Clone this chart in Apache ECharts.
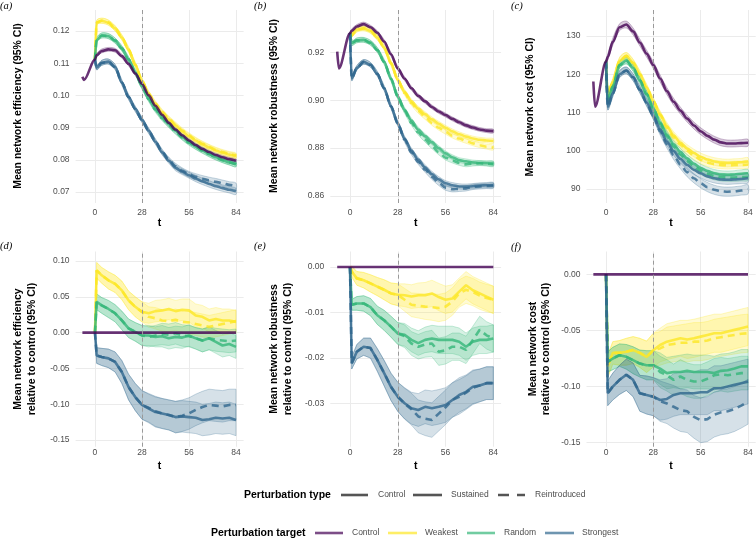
<!DOCTYPE html>
<html>
<head>
<meta charset="utf-8">
<script src="https://cdn.jsdelivr.net/npm/echarts@6/dist/echarts.min.js"></script>
<style>
  html, body { margin: 0; padding: 0; background: #fff; }
  #container { width: 756px; height: 539px; }
</style>
</head>
<body>
<div id="container"></div>
<script>
// time points (days relative to perturbation)
const tPre = [-7.5, -6.5, 0];
const tPost = [0, 1, 4, 8, 12, 16, 20, 24, 28, 32, 36, 40, 44, 48, 52, 56, 60, 64, 68, 72, 76, 80, 84];
const xTicks = [0, 28, 56, 84];

// (a) mean network efficiency
const aTicks = [0.07, 0.08, 0.09, 0.10, 0.11, 0.12];
const aCtrlPre = [0.1058, 0.1048, 0.1112];
const aCtrl  = [0.1112, 0.1125, 0.1138, 0.1143, 0.1140, 0.1122, 0.1098, 0.1068, 0.1036, 0.1000, 0.0968, 0.0940, 0.0915, 0.0894, 0.0876, 0.0860, 0.0846, 0.0834, 0.0824, 0.0815, 0.0808, 0.0802, 0.0797];
const aWeakS = [0.1112, 0.1226, 0.1232, 0.1226, 0.1208, 0.1180, 0.1142, 0.1095, 0.1045, 0.1004, 0.0972, 0.0946, 0.0925, 0.0906, 0.0888, 0.0873, 0.0860, 0.0848, 0.0838, 0.0829, 0.0822, 0.0816, 0.0811];
const aWeakR = [0.1112, 0.1226, 0.1232, 0.1226, 0.1208, 0.1180, 0.1142, 0.1095, 0.1045, 0.1006, 0.0975, 0.0949, 0.0928, 0.0909, 0.0891, 0.0876, 0.0862, 0.0850, 0.0840, 0.0831, 0.0824, 0.0818, 0.0813];
const aRandS = [0.1112, 0.1172, 0.1186, 0.1184, 0.1170, 0.1146, 0.1112, 0.1072, 0.1028, 0.0990, 0.0958, 0.0932, 0.0910, 0.0890, 0.0871, 0.0855, 0.0841, 0.0829, 0.0818, 0.0808, 0.0799, 0.0792, 0.0786];
const aRandR = [0.1112, 0.1172, 0.1186, 0.1184, 0.1170, 0.1146, 0.1112, 0.1072, 0.1028, 0.0988, 0.0955, 0.0929, 0.0907, 0.0887, 0.0869, 0.0853, 0.0840, 0.0828, 0.0817, 0.0807, 0.0799, 0.0792, 0.0786];
const aStrS  = [0.1112, 0.1086, 0.1101, 0.1105, 0.1088, 0.1040, 0.0995, 0.0958, 0.0924, 0.0890, 0.0856, 0.0823, 0.0797, 0.0775, 0.0763, 0.0752, 0.0742, 0.0733, 0.0725, 0.0718, 0.0712, 0.0707, 0.0702];
const aStrR  = [0.1112, 0.1086, 0.1101, 0.1105, 0.1088, 0.1040, 0.0995, 0.0958, 0.0924, 0.0890, 0.0857, 0.0825, 0.0800, 0.0780, 0.0766, 0.0755, 0.0747, 0.0741, 0.0736, 0.0732, 0.0727, 0.0722, 0.0718];
const aCtrlCI = [0.0003, 0.0005, 0.0006, 0.0006, 0.0006, 0.0006, 0.0006, 0.0006, 0.0006, 0.0006, 0.0006, 0.0006, 0.0006, 0.0006, 0.0006, 0.0006, 0.0006, 0.0006, 0.0006, 0.0006, 0.0006, 0.0006, 0.0006];
const aWeakCI = [0.0003, 0.0007, 0.0008, 0.0008, 0.0008, 0.0008, 0.0008, 0.0008, 0.0008, 0.0008, 0.0008, 0.0008, 0.0008, 0.0008, 0.0008, 0.0008, 0.0008, 0.0008, 0.0008, 0.0008, 0.0008, 0.0008, 0.0008];
const aRandCI = [0.0003, 0.0007, 0.0008, 0.0008, 0.0008, 0.0008, 0.0008, 0.0008, 0.0008, 0.0008, 0.0008, 0.0008, 0.0008, 0.0008, 0.0008, 0.0008, 0.0008, 0.0008, 0.0008, 0.0008, 0.0008, 0.0008, 0.0008];
const aStrCI  = [0.0003, 0.0007, 0.0008, 0.0008, 0.0008, 0.0008, 0.0008, 0.0008, 0.0008, 0.0008, 0.0008, 0.0008, 0.0008, 0.0009, 0.0009, 0.0009, 0.0010, 0.0010, 0.0010, 0.0010, 0.0010, 0.0010, 0.0010];

// (b) mean network robustness
const bTicks = [0.86, 0.88, 0.90, 0.92];
const bCtrlPre = [0.9203, 0.9133, 0.9280];
const bCtrl  = [0.9280, 0.9290, 0.9308, 0.9318, 0.9305, 0.9282, 0.9245, 0.9192, 0.9133, 0.9090, 0.9050, 0.9018, 0.8995, 0.8972, 0.8953, 0.8938, 0.8922, 0.8908, 0.8895, 0.8886, 0.8878, 0.8873, 0.8871];
const bWeakS = [0.9280, 0.9272, 0.9295, 0.9300, 0.9290, 0.9262, 0.9220, 0.9155, 0.9085, 0.9035, 0.8995, 0.8965, 0.8942, 0.8920, 0.8902, 0.8885, 0.8870, 0.8858, 0.8848, 0.8840, 0.8835, 0.8832, 0.8830];
const bWeakR = [0.9280, 0.9272, 0.9295, 0.9300, 0.9290, 0.9262, 0.9220, 0.9155, 0.9085, 0.9030, 0.8988, 0.8955, 0.8930, 0.8905, 0.8885, 0.8868, 0.8852, 0.8840, 0.8830, 0.8820, 0.8812, 0.8806, 0.8802];
const bRandS = [0.9280, 0.9238, 0.9250, 0.9252, 0.9240, 0.9210, 0.9160, 0.9090, 0.9015, 0.8960, 0.8915, 0.8878, 0.8850, 0.8825, 0.8800, 0.8778, 0.8762, 0.8750, 0.8745, 0.8740, 0.8738, 0.8737, 0.8736];
const bRandR = [0.9280, 0.9238, 0.9250, 0.9252, 0.9240, 0.9210, 0.9160, 0.9090, 0.9015, 0.8955, 0.8905, 0.8865, 0.8835, 0.8808, 0.8782, 0.8760, 0.8748, 0.8738, 0.8732, 0.8735, 0.8737, 0.8735, 0.8733];
const bStrS  = [0.9280, 0.9091, 0.9135, 0.9160, 0.9148, 0.9110, 0.9050, 0.8975, 0.8903, 0.8840, 0.8790, 0.8752, 0.8720, 0.8692, 0.8670, 0.8653, 0.8645, 0.8640, 0.8639, 0.8641, 0.8644, 0.8645, 0.8646];
const bStrR  = [0.9280, 0.9091, 0.9135, 0.9160, 0.9148, 0.9110, 0.9050, 0.8975, 0.8903, 0.8835, 0.8782, 0.8742, 0.8710, 0.8680, 0.8655, 0.8635, 0.8628, 0.8630, 0.8632, 0.8638, 0.8640, 0.8642, 0.8643];
const bCtrlCI = [0.0004, 0.0008, 0.0008, 0.0008, 0.0008, 0.0008, 0.0008, 0.0008, 0.0008, 0.0008, 0.0008, 0.0008, 0.0008, 0.0008, 0.0008, 0.0008, 0.0008, 0.0008, 0.0008, 0.0008, 0.0008, 0.0008, 0.0008];
const bWeakCI = [0.0004, 0.0009, 0.0010, 0.0010, 0.0010, 0.0010, 0.0010, 0.0010, 0.0010, 0.0010, 0.0010, 0.0010, 0.0010, 0.0010, 0.0010, 0.0010, 0.0010, 0.0010, 0.0010, 0.0010, 0.0010, 0.0010, 0.0010];
const bRandCI = [0.0004, 0.0009, 0.0010, 0.0010, 0.0010, 0.0010, 0.0010, 0.0010, 0.0010, 0.0010, 0.0010, 0.0010, 0.0010, 0.0010, 0.0010, 0.0010, 0.0010, 0.0010, 0.0010, 0.0010, 0.0010, 0.0010, 0.0010];
const bStrCI  = [0.0004, 0.0009, 0.0010, 0.0010, 0.0010, 0.0010, 0.0010, 0.0010, 0.0010, 0.0010, 0.0010, 0.0010, 0.0011, 0.0011, 0.0011, 0.0011, 0.0011, 0.0011, 0.0011, 0.0011, 0.0011, 0.0011, 0.0011];

// (c) mean network cost
const cTicks = [90, 100, 110, 120, 130];
const cCtrlPre = [118.1, 111.5, 123.3];
const cCtrl  = [123.3, 124.5, 128.5, 132.3, 133.0, 131.2, 128.3, 125.4, 122.4, 118.9, 115.6, 112.8, 110.5, 108.4, 106.6, 105.1, 103.9, 102.9, 102.2, 101.9, 101.9, 102.0, 102.1];
const cWeakS = [123.3, 114.8, 118.0, 123.5, 124.8, 123.0, 120.0, 116.5, 112.9, 109.5, 106.4, 104.0, 102.1, 100.6, 99.4, 98.4, 97.7, 97.2, 96.9, 96.8, 96.9, 97.0, 97.2];
const cWeakR = [123.3, 114.8, 118.0, 123.5, 124.8, 123.0, 120.0, 116.5, 112.9, 109.3, 106.0, 103.5, 101.6, 100.0, 98.7, 97.6, 96.9, 96.5, 96.3, 96.2, 96.3, 96.3, 96.4];
const cRandS = [123.3, 113.3, 116.8, 122.4, 123.6, 121.7, 118.4, 114.8, 111.0, 107.4, 104.2, 101.7, 99.7, 98.0, 96.6, 95.5, 94.7, 94.1, 93.8, 93.7, 93.8, 94.0, 94.1];
const cRandR = [123.3, 113.3, 116.8, 122.4, 123.6, 121.7, 118.4, 114.8, 111.0, 107.1, 103.8, 101.1, 99.0, 97.3, 95.9, 94.8, 94.0, 93.4, 93.1, 93.0, 93.0, 93.1, 93.2];
const cStrS  = [123.3, 111.5, 115.0, 120.0, 121.0, 119.2, 116.0, 112.6, 109.1, 105.6, 102.4, 99.9, 97.9, 96.3, 95.0, 94.1, 93.3, 92.8, 92.5, 92.4, 92.5, 92.6, 92.8];
const cStrR  = [123.3, 111.5, 115.0, 120.0, 121.0, 119.2, 116.0, 112.6, 109.1, 105.1, 101.7, 98.8, 96.4, 94.4, 92.8, 91.5, 90.5, 89.8, 89.4, 89.3, 89.4, 89.6, 89.9];
const cCtrlCI = [0.4, 0.8, 0.9, 0.9, 0.9, 0.9, 0.9, 0.9, 0.9, 0.9, 0.9, 0.9, 0.9, 0.9, 0.9, 0.9, 0.9, 0.9, 0.9, 0.9, 0.9, 0.9, 0.9];
const cWeakCI = [0.4, 0.8, 0.9, 0.9, 0.9, 0.9, 0.9, 0.9, 0.9, 0.9, 1.0, 1.0, 1.0, 1.0, 1.0, 1.0, 1.0, 1.0, 1.0, 1.0, 1.0, 1.0, 1.0];
const cRandCI = [0.4, 0.8, 0.9, 0.9, 0.9, 0.9, 0.9, 0.9, 0.9, 0.9, 1.0, 1.0, 1.0, 1.0, 1.0, 1.0, 1.0, 1.0, 1.0, 1.0, 1.0, 1.0, 1.0];
const cStrCI  = [0.4, 0.8, 0.9, 0.9, 0.9, 0.9, 0.9, 0.9, 0.9, 1.0, 1.0, 1.1, 1.1, 1.2, 1.2, 1.2, 1.2, 1.2, 1.2, 1.2, 1.2, 1.2, 1.2];

// relative to control: the control itself sits at zero
const relCtrlPre = [0, 0, 0];
const relCtrl = [0, 0, 0, 0, 0, 0, 0, 0, 0, 0, 0, 0, 0, 0, 0, 0, 0, 0, 0, 0, 0, 0, 0];

// (d) efficiency relative to control
const dTicks = [-0.15, -0.10, -0.05, 0, 0.05, 0.10];
const dWeakS = [0, 0.087, 0.080, 0.073, 0.068, 0.059, 0.045, 0.036, 0.029, 0.027, 0.030, 0.031, 0.033, 0.030, 0.032, 0.031, 0.024, 0.022, 0.017, 0.019, 0.017, 0.017, 0.015];
const dWeakR = [0, 0.087, 0.080, 0.073, 0.068, 0.059, 0.045, 0.036, 0.029, 0.022, 0.020, 0.017, 0.016, 0.018, 0.015, 0.014, 0.012, 0.010, 0.008, 0.010, 0.012, 0.014, 0.016];
const dRandS = [0, 0.043, 0.038, 0.033, 0.027, 0.017, 0.006, 0.001, -0.004, -0.004, -0.006, -0.005, -0.008, -0.006, -0.007, -0.004, -0.008, -0.011, -0.008, -0.013, -0.018, -0.016, -0.020];
const dRandR = [0, 0.043, 0.038, 0.033, 0.027, 0.017, 0.006, 0.001, -0.004, -0.006, -0.004, -0.002, -0.003, -0.001, -0.004, -0.005, -0.008, -0.011, -0.008, -0.010, -0.011, -0.012, -0.011];
const dStrS  = [0, -0.032, -0.034, -0.036, -0.041, -0.055, -0.076, -0.090, -0.101, -0.106, -0.111, -0.113, -0.115, -0.118, -0.117, -0.118, -0.119, -0.122, -0.121, -0.119, -0.120, -0.119, -0.122];
const dStrR  = [0, -0.032, -0.034, -0.036, -0.041, -0.055, -0.076, -0.090, -0.101, -0.105, -0.110, -0.113, -0.115, -0.118, -0.116, -0.113, -0.108, -0.104, -0.101, -0.102, -0.103, -0.101, -0.101];
const dWeakCI = [0, 0.011, 0.011, 0.012, 0.012, 0.013, 0.013, 0.014, 0.014, 0.014, 0.015, 0.015, 0.015, 0.015, 0.015, 0.016, 0.016, 0.016, 0.016, 0.016, 0.016, 0.016, 0.016];
const dRandCI = [0, 0.011, 0.011, 0.012, 0.012, 0.013, 0.013, 0.013, 0.014, 0.014, 0.014, 0.015, 0.015, 0.015, 0.015, 0.015, 0.015, 0.016, 0.016, 0.016, 0.016, 0.016, 0.016];
const dStrCI  = [0, 0.011, 0.012, 0.013, 0.014, 0.016, 0.018, 0.019, 0.020, 0.020, 0.021, 0.021, 0.021, 0.022, 0.022, 0.022, 0.022, 0.022, 0.022, 0.022, 0.022, 0.022, 0.022];

// (e) robustness relative to control
const eTicks = [-0.03, -0.02, -0.01, 0];
const eWeakS = [0, -0.0010, -0.0025, -0.0029, -0.0036, -0.0043, -0.0050, -0.0058, -0.0061, -0.0062, -0.0065, -0.0062, -0.0062, -0.0058, -0.0066, -0.0072, -0.0069, -0.0054, -0.0040, -0.0051, -0.0058, -0.0065, -0.0072];
const eWeakR = [0, -0.0010, -0.0025, -0.0029, -0.0036, -0.0043, -0.0050, -0.0058, -0.0061, -0.0072, -0.0083, -0.0085, -0.0087, -0.0088, -0.0090, -0.0087, -0.0076, -0.0058, -0.0050, -0.0055, -0.0063, -0.0068, -0.0072];
const eRandS = [0, -0.0083, -0.0080, -0.0080, -0.0088, -0.0106, -0.0117, -0.0131, -0.0146, -0.0149, -0.0160, -0.0167, -0.0160, -0.0157, -0.0160, -0.0160, -0.0160, -0.0164, -0.0175, -0.0164, -0.0160, -0.0160, -0.0157];
const eRandR = [0, -0.0083, -0.0080, -0.0080, -0.0088, -0.0106, -0.0117, -0.0131, -0.0146, -0.0152, -0.0168, -0.0175, -0.0170, -0.0168, -0.0186, -0.0183, -0.0175, -0.0175, -0.0182, -0.0160, -0.0138, -0.0150, -0.0157];
const eStrS  = [0, -0.0211, -0.0186, -0.0175, -0.0178, -0.0204, -0.0233, -0.0263, -0.0285, -0.0299, -0.0310, -0.0314, -0.0307, -0.0310, -0.0307, -0.0303, -0.0292, -0.0281, -0.0274, -0.0263, -0.0260, -0.0255, -0.0255];
const eStrR  = [0, -0.0211, -0.0186, -0.0175, -0.0178, -0.0204, -0.0233, -0.0263, -0.0285, -0.0300, -0.0312, -0.0328, -0.0333, -0.0336, -0.0322, -0.0308, -0.0292, -0.0285, -0.0276, -0.0265, -0.0260, -0.0255, -0.0255];
const eWeakCI = [0, 0.0012, 0.0015, 0.0017, 0.0019, 0.0020, 0.0022, 0.0023, 0.0024, 0.0025, 0.0026, 0.0027, 0.0028, 0.0029, 0.0030, 0.0030, 0.0030, 0.0030, 0.0030, 0.0030, 0.0030, 0.0030, 0.0030];
const eRandCI = [0, 0.0012, 0.0015, 0.0017, 0.0019, 0.0020, 0.0022, 0.0023, 0.0024, 0.0025, 0.0026, 0.0027, 0.0028, 0.0029, 0.0030, 0.0030, 0.0030, 0.0030, 0.0030, 0.0030, 0.0030, 0.0030, 0.0030];
const eStrCI  = [0, 0.0013, 0.0016, 0.0019, 0.0022, 0.0025, 0.0028, 0.0030, 0.0032, 0.0034, 0.0035, 0.0036, 0.0037, 0.0038, 0.0038, 0.0038, 0.0038, 0.0038, 0.0037, 0.0037, 0.0036, 0.0036, 0.0036];

// (f) cost relative to control
const fTicks = [-0.15, -0.10, -0.05, 0];
const fWeakS = [0, -0.082, -0.070, -0.070, -0.069, -0.0675, -0.070, -0.0735, -0.0675, -0.063, -0.060, -0.0585, -0.057, -0.058, -0.057, -0.0555, -0.054, -0.0525, -0.0525, -0.051, -0.0495, -0.048, -0.0465];
const fWeakR = [0, -0.082, -0.070, -0.070, -0.069, -0.0675, -0.070, -0.0735, -0.0675, -0.066, -0.063, -0.062, -0.061, -0.061, -0.060, -0.060, -0.059, -0.057, -0.056, -0.055, -0.054, -0.053, -0.0525];
const fRandS = [0, -0.078, -0.075, -0.072, -0.0735, -0.0765, -0.0795, -0.081, -0.081, -0.084, -0.088, -0.087, -0.087, -0.086, -0.087, -0.087, -0.087, -0.088, -0.086, -0.0855, -0.084, -0.082, -0.082];
const fRandR = [0, -0.078, -0.075, -0.072, -0.0735, -0.0765, -0.0795, -0.081, -0.081, -0.087, -0.090, -0.094, -0.091, -0.094, -0.0955, -0.0955, -0.093, -0.090, -0.089, -0.090, -0.089, -0.088, -0.088];
const fStrS  = [0, -0.106, -0.100, -0.094, -0.0895, -0.094, -0.106, -0.1075, -0.109, -0.112, -0.111, -0.1075, -0.106, -0.106, -0.106, -0.105, -0.105, -0.1015, -0.1015, -0.100, -0.0985, -0.097, -0.0955];
const fStrR  = [0, -0.106, -0.100, -0.094, -0.0895, -0.094, -0.106, -0.1075, -0.109, -0.113, -0.115, -0.118, -0.121, -0.122, -0.127, -0.130, -0.129, -0.125, -0.123, -0.122, -0.120, -0.117, -0.1135];
const fWeakCI = [0, 0.010, 0.010, 0.011, 0.012, 0.012, 0.013, 0.014, 0.015, 0.015, 0.016, 0.016, 0.016, 0.017, 0.017, 0.017, 0.017, 0.017, 0.017, 0.017, 0.017, 0.017, 0.017];
const fRandCI = [0, 0.009, 0.010, 0.010, 0.011, 0.012, 0.012, 0.013, 0.013, 0.014, 0.014, 0.014, 0.015, 0.015, 0.015, 0.015, 0.015, 0.015, 0.015, 0.015, 0.015, 0.015, 0.015];
const fStrCI  = [0, 0.011, 0.012, 0.013, 0.014, 0.015, 0.016, 0.017, 0.017, 0.018, 0.018, 0.019, 0.019, 0.019, 0.019, 0.020, 0.020, 0.020, 0.020, 0.020, 0.020, 0.020, 0.020];

const COLORS = { Control: '#440154', Weakest: '#FDE725', Random: '#35B779', Strongest: '#31688E' };
const FONT = '"Liberation Sans", Arial, sans-serif';

const panels = [
  { ctrlPre: aCtrlPre, ctrl: aCtrl, ctrlCI: aCtrlCI, ticks: aTicks, yMin: 0.06658, yMax: 0.12652, dec: 2, smooth: 0.3,
    targets: [['Weakest', aWeakS, aWeakR, aWeakCI], ['Random', aRandS, aRandR, aRandCI], ['Strongest', aStrS, aStrR, aStrCI]] },
  { ctrlPre: bCtrlPre, ctrl: bCtrl, ctrlCI: bCtrlCI, ticks: bTicks, yMin: 0.85708, yMax: 0.93768, dec: 2, smooth: 0.3,
    targets: [['Weakest', bWeakS, bWeakR, bWeakCI], ['Random', bRandS, bRandR, bRandCI], ['Strongest', bStrS, bStrR, bStrCI]] },
  { ctrlPre: cCtrlPre, ctrl: cCtrl, ctrlCI: cCtrlCI, ticks: cTicks, yMin: 86.34, yMax: 136.8, dec: 0, smooth: 0.3,
    targets: [['Weakest', cWeakS, cWeakR, cWeakCI], ['Random', cRandS, cRandR, cRandCI], ['Strongest', cStrS, cStrR, cStrCI]] },
  { ctrlPre: relCtrlPre, ctrl: relCtrl, ctrlCI: null, ticks: dTicks, yMin: -0.15936, yMax: 0.11327, dec: 2, smooth: false,
    targets: [['Weakest', dWeakS, dWeakR, dWeakCI], ['Random', dRandS, dRandR, dRandCI], ['Strongest', dStrS, dStrR, dStrCI]] },
  { ctrlPre: relCtrlPre, ctrl: relCtrl, ctrlCI: null, ticks: eTicks, yMin: -0.03945, yMax: 0.0034, dec: 2, smooth: false,
    targets: [['Weakest', eWeakS, eWeakR, eWeakCI], ['Random', eRandS, eRandR, eRandCI], ['Strongest', eStrS, eStrR, eStrCI]] },
  { ctrlPre: relCtrlPre, ctrl: relCtrl, ctrlCI: null, ticks: fTicks, yMin: -0.15358, yMax: 0.02034, dec: 2, smooth: false,
    targets: [['Weakest', fWeakS, fWeakR, fWeakCI], ['Random', fRandS, fRandR, fRandCI], ['Strongest', fStrS, fStrR, fStrCI]] }
];

const grids = [
  { left: 75.6, top: 10, width: 168, height: 193 },
  { left: 330.3, top: 10, width: 170.8, height: 193 },
  { left: 586.5, top: 10, width: 169.2, height: 193 },
  { left: 75.6, top: 251.5, width: 168, height: 195.2 },
  { left: 330.3, top: 251.5, width: 170.8, height: 195.2 },
  { left: 586.5, top: 251.5, width: 169.2, height: 195.2 }
];

function rgba(hex, a) {
  const n = parseInt(hex.slice(1), 16);
  return 'rgba(' + (n >> 16) + ',' + ((n >> 8) & 255) + ',' + (n & 255) + ',' + a + ')';
}

// one polygon per band, drawn through the axis scales with api.coord
function bandRender(color, smooth) {
  return function (params, api) {
    if (params.dataIndex !== 0) return null;
    const n = params.dataInsideLength !== undefined ? api.getDevicePixelRatio && 0 : 0;
    const up = [], lo = [];
    for (let i = 0; i < tPost.length; i++) {
      up.push(api.coord([api.value(0, i), api.value(2, i)]));
      lo.push(api.coord([api.value(0, i), api.value(1, i)]));
    }
    return {
      type: 'polygon',
      shape: { points: up.concat(lo.reverse()), smooth: smooth || 0 },
      style: { fill: rgba(color, 0.2), stroke: rgba(color, 0.45), lineWidth: 0.6 }
    };
  };
}

const xAxes = [], yAxes = [], series = [];
panels.forEach(function (p, gi) {
  xAxes.push({
    gridIndex: gi, type: 'value', min: -11.55, max: 88.55,
    axisLine: { show: false },
    axisTick: { show: false, customValues: xTicks },
    axisLabel: { customValues: xTicks, fontSize: 8.5, color: '#4d4d4d', fontFamily: FONT, margin: gi < 3 ? 5.5 : 1.5 },
    splitLine: { show: true, lineStyle: { color: '#ebebeb', width: 1 } }
  });
  yAxes.push({
    gridIndex: gi, type: 'value', min: p.yMin, max: p.yMax,
    axisLine: { show: false },
    axisTick: { show: false, customValues: p.ticks },
    axisLabel: { customValues: p.ticks, fontSize: 8.5, color: '#4d4d4d', fontFamily: FONT, margin: 6,
      formatter: function (v) { return v.toFixed(p.dec); } },
    splitLine: { show: true, lineStyle: { color: '#ebebeb', width: 1 } }
  });

  // confidence bands
  const bands = [];
  if (p.ctrlCI) bands.push([p.ctrl, p.ctrlCI, COLORS.Control]);
  p.targets.forEach(function (tg) {
    bands.push([tg[1], tg[3], COLORS[tg[0]]]);
    bands.push([tg[2], tg[3], COLORS[tg[0]]]);
  });
  bands.forEach(function (b, k) {
    const s = {
      type: 'custom', xAxisIndex: gi, yAxisIndex: gi, silent: true, animation: false, clip: true, z: 1,
      data: tPost.map(function (t, i) { return [t, b[0][i] - b[1][i], b[0][i] + b[1][i]]; }),
      encode: { x: 0, y: [1, 2] },
      renderItem: bandRender(b[2], p.smooth)
    };
    if (k === 0) {
      s.markLine = { silent: true, symbol: ['none', 'none'], label: { show: false }, animation: false,
        lineStyle: { color: '#9a9a9a', type: [4, 3], width: 1 }, data: [{ xAxis: 28 }] };
    }
    series.push(s);
  });

  const base = { type: 'line', xAxisIndex: gi, yAxisIndex: gi, symbol: 'none', silent: true,
    smooth: p.smooth, smoothMonotone: 'x', animation: false, z: 3 };
  // mean lines: sustained (solid) and reintroduced (dashed)
  p.targets.forEach(function (tg) {
    series.push(Object.assign({}, base, { name: tg[0],
      data: tPost.map(function (t, i) { return [t, tg[1][i]]; }),
      lineStyle: { width: 2.6, color: COLORS[tg[0]], opacity: 0.8 } }));
    series.push(Object.assign({}, base, { name: tg[0],
      data: tPost.map(function (t, i) { return [t, tg[2][i]]; }),
      lineStyle: { width: 2.6, color: COLORS[tg[0]], opacity: 0.8, type: [7, 5] } }));
  });
  const ctrlData = tPre.map(function (t, i) { return [t, p.ctrlPre[i]]; })
    .concat(tPost.slice(1).map(function (t, i) { return [t, p.ctrl[i + 1]]; }));
  series.push(Object.assign({}, base, { name: 'Control', z: 4, data: ctrlData,
    lineStyle: { width: 2.6, color: COLORS.Control, opacity: 0.8 } }));
});

// titles and legend as plain text/graphics
const g = [];
function txt(x, y, text, font, fill, align, rot, lh) {
  const el = { type: 'text', x: x, y: y, silent: true,
    style: { text: text, font: font, fill: fill, textAlign: align || 'left', textVerticalAlign: 'middle', lineHeight: lh || 13 } };
  if (rot) el.rotation = rot;
  g.push(el);
}
const yTitles = [
  [18.5, 106, 'Mean network efficiency (95% CI)'],
  [274, 106, 'Mean network robustness (95% CI)'],
  [530, 107, 'Mean network cost (95% CI)'],
  [25, 349, 'Mean network efficiency\nrelative to control (95% CI)'],
  [281, 349, 'Mean network robustness\nrelative to control (95% CI)'],
  [539.5, 349, 'Mean network cost\nrelative to control (95% CI)']
];
yTitles.forEach(function (d) { txt(d[0], d[1], d[2], 'bold 10.5px ' + FONT, '#000', 'center', Math.PI / 2, 13.5); });
grids.forEach(function (gr, i) {
  txt(gr.left + gr.width / 2, i < 3 ? 223.5 : 466.5, 't', 'bold 10.5px ' + FONT, '#000', 'center');
});
const letters = [[0, 6, '(a)'], [254, 6, '(b)'], [511, 6, '(c)'], [0, 246, '(d)'], [254, 246, '(e)'], [511, 247, '(f)']];
letters.forEach(function (d) { txt(d[0], d[1], d[2], 'italic 10.5px "Liberation Serif", "DejaVu Serif", serif', '#000', 'left'); });

// legend: perturbation type
txt(244, 495, 'Perturbation type', 'bold 10.5px ' + FONT, '#000', 'left');
const typeKeys = [[341, 368, 'Control', null, 378], [413, 442, 'Sustained', null, 451], [498, 525, 'Reintroduced', [11, 8], 535]];
typeKeys.forEach(function (k) {
  g.push({ type: 'line', silent: true, shape: { x1: k[0], y1: 495, x2: k[1], y2: 495 },
    style: { stroke: '#555', lineWidth: 2.6, lineDash: k[3] } });
  txt(k[4], 495, k[2], '8.5px ' + FONT, '#4d4d4d', 'left');
});
// legend: perturbation target
txt(211, 533, 'Perturbation target', 'bold 10.5px ' + FONT, '#000', 'left');
const targetKeys = [[315, 343, 'Control', 352], [388, 417, 'Weakest', 425], [467, 495, 'Random', 504], [545, 574, 'Strongest', 582]];
targetKeys.forEach(function (k) {
  g.push({ type: 'line', silent: true, shape: { x1: k[0], y1: 533, x2: k[1], y2: 533 },
    style: { stroke: COLORS[k[2]], lineWidth: 2.6, opacity: 0.7 } });
  txt(k[3], 533, k[2], '8.5px ' + FONT, '#4d4d4d', 'left');
});

var dom = document.getElementById('container');
var myChart = echarts.init(dom, null, { renderer: 'canvas' });
var option = {
  backgroundColor: '#fff',
  animation: false,
  grid: grids,
  xAxis: xAxes,
  yAxis: yAxes,
  series: series,
  graphic: { elements: g }
};
myChart.setOption(option);
window.addEventListener('resize', myChart.resize);
</script>
</body>
</html>
